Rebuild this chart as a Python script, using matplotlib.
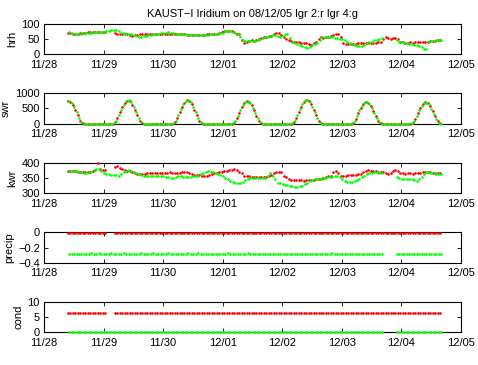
import numpy as np
import matplotlib
matplotlib.use('Agg')
from matplotlib import pyplot as plt
import matplotlib.dates as mdates
from datetime import datetime, timedelta

nan = np.nan

# hourly samples starting 11/28 09:36, lgr 2 (red) and lgr 4 (green, half hour later)
start = datetime(2008, 11, 28, 9, 36)

hrh_r = [69, 68, 67, 67, 67, 68, 69, 70, 71, 72, 72, 72, 72, 71, 72,
         71, nan, nan, nan,
         68, 67, 66, 66, 65, 64, 62, 60, 62, 63, 64, 65,
         66, 66, 65, 66, 66, 67, 67, 67, 66, 66, 66, 66, 65, 65, 64,
         64, 64, 63, 63, 63, 62, 62, 63, 63, 63, 64, 64, 65, 65, 66,
         68, 72, 75, 76, 76, 74, 71, 67, 64, 45,
         37, 40, 42, 45, 44, 46, 50, 53, 55, 56,
         58, 60, 66, 70, 68, 62, 57, 48, 45, 43,
         40, 38, 38, 37, 36, 35, 32, 30, 35, 40,
         50, 55, 54, 56, 57, 58, 62, 65, 66, 56,
         35, 33, 34, 33, 34, 34, 35, 36, 37, 35,
         36, 37, 36, 37, 38, 40, 50, 57, 52, 50,
         54, 52, 48, 40, 38, 37, 37, 38, 37, 38,
         40, 39, 38, 39, 40, 41, 42, 44, 45, 46]
hrh_g = [71, 68, 67, 66, 67, 67, 68, 69, 70, 70, 71, 71, 71, 72, 73,
         75, 77, 78, 80, 78,
         74, 70, 68, 67, 66, 64, 62, 59, 57, 57, 58,
         60, 62, 63, 65, 66, 67, 68, 69, 70, 72, 70, 68, 67, 66, 65,
         64, 64, 63, 63, 62, 62, 62, 63, 63, 63, 63, 64, 64, 65, 66,
         68, 70, 74, 76, 75, 73, 70, 66, 55, 45,
         42, 43, 44, 42, 41, 45, 50, 52, 55, 56,
         60, 63, 62, 58, 57, 58, 66, 65, 52, 40,
         36, 33, 30, 27, 23, 20, 24, 28, 32, 37,
         45, 55, 56, 55, 56, 55, 52, 52, 50, 48,
         45, 40, 35, 32, 28, 27, 27, 27, 28, 35,
         38, 40, 45, 47, 50, 52, nan, nan, nan, nan,
         nan, 45, 40, 38, 36, 35, 33, 32, 30, 28,
         25, 22, 18, 16, 40, 42, 44, 45, 46, 45]

swr_r = [740, 710, 610, 450, 270, 100, 10, 0, 0, 0, 0, 0, 0, 0, 0, 0, 0, 0,
         0, 40, 180, 370, 540, 680, 750, 730, 620, 450, 270, 100, 10, 0, 0, 0, 0, 0, 0, 0, 0, 0, 0, 0,
         0, 40, 180, 370, 550, 690, 760, 740, 630, 460, 280, 100, 10, 0, 0, 0, 0, 0, 0, 0, 0, 0, 0, 0,
         0, 30, 170, 360, 540, 680, 740, 720, 600, 440, 260, 90, 5, 0, 0, 0, 0, 0, 0, 0, 0, 0, 0, 0,
         0, 40, 190, 380, 560, 700, 770, 740, 630, 460, 280, 100, 10, 0, 0, 0, 0, 0, 0, 0, 0, 0, 0, 0,
         0, 30, 160, 340, 510, 640, 700, 680, 580, 420, 250, 90, 5, 0, 0, 0, 0, 0, 0, 0, 0, 0, 0, 0,
         0, 30, 160, 340, 510, 640, 700, 680, 570, 410, 240, 80, 5]
swr_g = [730, 680, 540, 370, 190, 50, 0, 0, 0, 0, 0, 0, 0, 0, 0, 0, 0, 0,
         10, 100, 280, 460, 620, 730, 760, 700, 550, 370, 190, 50, 0, 0, 0, 0, 0, 0, 0, 0, 0, 0, 0, 0,
         10, 100, 280, 470, 630, 740, 760, 700, 560, 380, 200, 50, 0, 0, 0, 0, 0, 0, 0, 0, 0, 0, 0, 0,
         10, 90, 260, 450, 620, 720, 720, 660, 520, 350, 170, 40, 0, 0, 0, 0, 0, 0, 0, 0, 0, 0, 0, 0,
         10, 100, 290, 480, 640, 750, 770, 700, 560, 380, 200, 50, 0, 0, 0, 0, 0, 0, 0, 0, 0, 0, 0, 0,
         10, 80, 250, 430, 580, 680, 700, 640, 500, 340, 170, 40, 0, 0, 0, 0, 0, 0, 0, 0, 0, 0, 0, 0,
         10, 80, 250, 430, 580, 680, 690, 630, 490, 330, 160, 30, 0]

kwr_r = [372, 373, 373, 372, 371, 369, 368, 368, 369, 370, 372, 375,
         398, 378, 377, 376, nan, nan, nan,
         386, 388, 382, 378, 376, 374, 372, 368, 365, 363,
         363, 362, 363, 365, 366, 366, 366, 365, 365, 365, 366, 366, 368, 367, 366, 365, 367,
         368, 369, 368, 366, 362, 360, 360, 360, 358, 357, 358, 360, 362, 365, 366,
         368, 370, 372, 374, 376, 377, 378, 376, 368, 366,
         356, 355, 355, 354, 354, 353, 353, 352, 352, 353, 355, 360,
         366, 368, 369, 368, 358, 352, 348,
         344, 343, 342, 342, 342, 341, 342, 343, 343, 344, 345,
         346, 348, 350, 352, 355, 358, 368, 373, 365, 358,
         357, 358, 359, 360, 360, 361, 362, 364, 370, 373,
         375, 374, 372, 372, 371, 370, 368, 365, 364, 366,
         372, 375, 372, 366, 365, 364, 365, 365, 364, 365,
         366, 367, 370, 371, 369, 368, 367, 366, 367, 366]
kwr_g = [372, 373, 373, 372, 370, 368, 367, 367, 368, 369, 375, 380, 378, 372, 366, 362, 362, 361, 361, 360, 358,
         362, 368, 374, 375, 372, 368, 365, 362, 360, 358,
         358, 357, 357, 357, 357, 356, 355, 355, 354, 352, 350, 350, 354, 356, 355,
         354, 353, 353, 354, 355, 356, 358, 362, 366, 370, 372, 371, 368, 365, 362,
         360, 356, 350, 345, 340, 336, 334, 333, 335, 338,
         342, 346, 349, 350, 351, 351, 351, 351, 351, 355,
         366, 355, 345, 335, 332, 330, 328, 326, 324, 322,
         321, 321, 322, 325, 330, 335, 340, 343, 345, 346,
         348, 350, 351, 352, 353, 354, 355, 355, 352, 345,
         340, 337, 337, 338, 340, 343, 347, 352, 357, 362,
         365, 367, 368, 368, 366, 365, nan, nan, nan, nan,
         nan, 352, 350, 348, 347, 347, 346, 345, 342, 340,
         345, 352, 362, 370, 369, 367, 365, 364, 362, 362]

precip_r = [-0.015] * 16 + [nan] * 3 + [-0.015] * 132
precip_g = [-0.285, -0.285, -0.285, -0.285, -0.285, -0.285, -0.285, -0.28, -0.28, -0.275, -0.28, -0.28,
            -0.275, -0.28, -0.28, -0.28, -0.28, -0.275, -0.28, -0.285, -0.28, -0.28, -0.275, -0.28,
            -0.28, -0.28, -0.28, -0.285, -0.28, -0.275, -0.28, -0.28, -0.28, -0.28, -0.275, -0.28,
            -0.28, -0.285, -0.28, -0.28, -0.275, -0.28, -0.28, -0.28, -0.28, -0.285, -0.28, -0.28,
            -0.275, -0.28, -0.28, -0.28, -0.275, -0.28, -0.28, -0.28, -0.28, -0.28, -0.28, -0.285,
            -0.28, -0.28, -0.28, -0.28, -0.275, -0.28, -0.28, -0.285, -0.28, -0.28, -0.28, -0.28,
            -0.275, -0.28, -0.28, -0.28, -0.28, -0.28, -0.28, -0.28, -0.28, -0.28, -0.28, -0.28,
            -0.28, -0.28, -0.28, -0.28, -0.285, -0.285, -0.285, -0.285, -0.285, -0.28, -0.285, -0.28,
            -0.285, -0.28, -0.28, -0.285, -0.28, -0.28, -0.28, -0.28, -0.28, -0.28, -0.275, -0.28,
            -0.28, -0.28, -0.28, -0.285, -0.285, -0.285, -0.285, -0.285, -0.285, -0.285, -0.285, -0.285,
            -0.285, -0.285, -0.285, -0.285, -0.285, -0.285, -0.285, nan, nan, nan, nan, nan,
            -0.28, -0.28, -0.28, -0.28, -0.28, -0.28, -0.28, -0.28, -0.28, -0.285, -0.285, -0.285,
            -0.285, -0.285, -0.285, -0.285, -0.285, -0.285, -0.285]

cond_r = [6.5] * 16 + [nan] * 3 + [6.3] * 132
cond_g = [0.0] * 127 + [nan] * 5 + [0.0] * 19

names = ['hrh', 'swr', 'kwr', 'precip', 'cond']
red_series = [hrh_r, swr_r, kwr_r, precip_r, cond_r]
green_series = [hrh_g, swr_g, kwr_g, precip_g, cond_g]
ylims = [(0, 100), (0, 1000), (300, 400), (-0.4, 0), (0, 10)]
yticks = [[0, 50, 100], [0, 500, 1000], [300, 350, 400], [-0.4, -0.2, 0], [0, 5, 10]]

plt.rcParams['font.family'] = ['Liberation Sans', 'DejaVu Sans']
plt.rcParams['font.size'] = 8

W, H = 478, 365
fig = plt.figure(figsize=(W / 100, H / 100), dpi=100)

for i in range(5):
    r = red_series[i]
    g = green_series[i]
    t_r = [start + timedelta(hours=k) for k in range(len(r))]
    t_g = [start + timedelta(hours=k + 0.5) for k in range(len(g))]
    top = 23.5 + 69.6 * i
    ax = fig.add_axes([44 / W, 1 - (top + 30.5) / H, 417 / W, 30.5 / H])
    ax.plot(t_r, r, 'o', color=(1, 0, 0), ms=1.9, mew=0, clip_on=False, zorder=3)
    ax.plot(t_g, g, 'o', color=(0, 1, 0), ms=1.9, mew=0, clip_on=False, zorder=3)
    ax.set_xlim(datetime(2008, 11, 28), datetime(2008, 12, 5))
    ax.set_ylim(*ylims[i])
    ax.set_yticks(yticks[i])
    ax.set_yticklabels([('%g' % v).replace('-', '\u2212') for v in yticks[i]])
    ax.xaxis.set_major_locator(mdates.DayLocator())
    ax.xaxis.set_major_formatter(mdates.DateFormatter('%m/%d'))
    ax.tick_params(direction='in', top=True, right=True, length=3, width=0.6,
                   labelsize=8)
    ax.tick_params(axis='x', pad=4)
    ax.tick_params(axis='y', pad=3)
    for s in ax.spines.values():
        s.set_linewidth(0.8)
    ax.set_ylabel(names[i], labelpad=3)
    if i == 0:
        ax.set_title('KAUST\u2212I Iridium on 08/12/05 lgr 2:r lgr 4:g', fontsize=8, pad=5)

fig.savefig('out.png', dpi=100)
